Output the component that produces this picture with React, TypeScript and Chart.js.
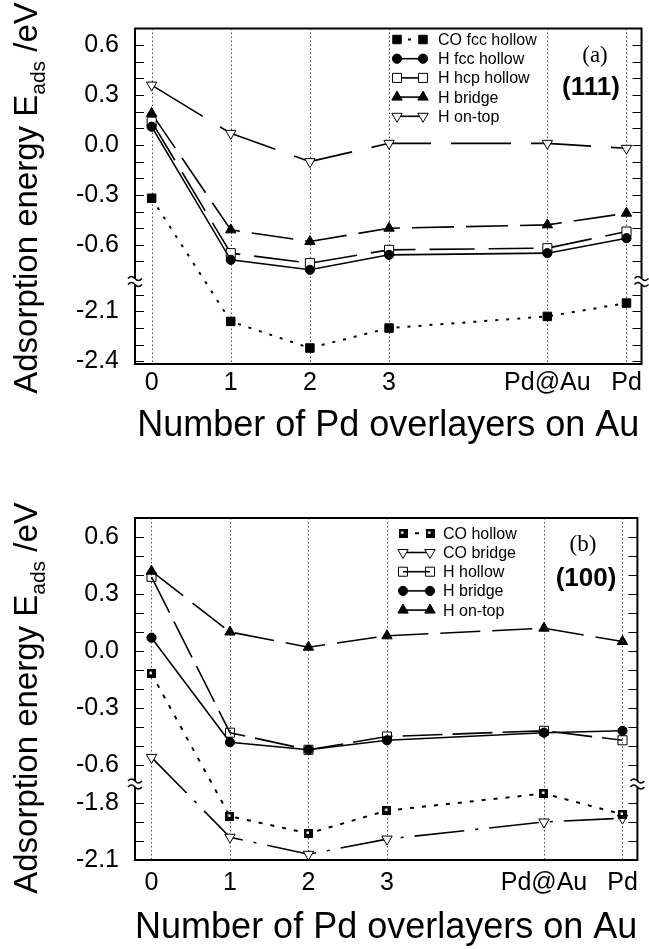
import React, { useEffect, useRef } from 'react';
import { Chart, registerables } from 'chart.js';

Chart.register(...registerables);

// ---------- shared categories ----------
const X_POS = [0, 1, 2, 3, 5, 6];
const X_LABELS = ['0', '1', '2', '3', 'Pd@Au', 'Pd'];

// ---------- panel (a) : (111) ----------
const A_SERIES_LABELS = ['CO fcc hollow', 'H fcc hollow', 'H hcp hollow', 'H bridge', 'H on-top'];
const A_CO_FCC_HOLLOW = [-0.32, -2.16, -2.32, -2.2, -2.13, -2.05];
const A_H_FCC_HOLLOW = [0.11, -0.69, -0.75, -0.66, -0.65, -0.56];
const A_H_HCP_HOLLOW = [0.14, -0.65, -0.71, -0.63, -0.62, -0.52];
const A_H_BRIDGE = [0.19, -0.51, -0.58, -0.5, -0.48, -0.41];
const A_H_ONTOP = [0.36, 0.07, -0.1, 0.01, 0.01, -0.02];
const A_Y_TICKS = [0.6, 0.5, 0.4, 0.3, 0.2, 0.1, 0.0, -0.1, -0.2, -0.3, -0.4, -0.5, -0.6, -0.7, -2.0, -2.1, -2.2, -2.3, -2.4];
const A_Y_TICK_LABELS = ['0.6', '0.3', '0.0', '-0.3', '-0.6', '-2.1', '-2.4'];

// ---------- panel (b) : (100) ----------
const B_SERIES_LABELS = ['CO hollow', 'CO bridge', 'H hollow', 'H bridge', 'H on-top'];
const B_CO_HOLLOW = [-0.12, -1.87, -1.96, -1.84, -1.75, -1.86];
const B_CO_BRIDGE = [-0.56, -1.98, -2.07, -1.99, -1.9, -1.88];
const B_H_HOLLOW = [0.39, -0.43, -0.52, -0.45, -0.42, -0.47];
const B_H_BRIDGE = [0.07, -0.48, -0.52, -0.47, -0.43, -0.42];
const B_H_ONTOP = [0.42, 0.1, 0.02, 0.08, 0.12, 0.05];
const B_Y_TICKS = [0.6, 0.5, 0.4, 0.3, 0.2, 0.1, 0.0, -0.1, -0.2, -0.3, -0.4, -0.5, -0.6, -1.8, -1.9, -2.0, -2.1];
const B_Y_TICK_LABELS = ['0.6', '0.3', '0.0', '-0.3', '-0.6', '-1.8', '-2.1'];

const X_TITLE = 'Number of Pd overlayers on Au';
const FONT = '"Liberation Sans", Arial, Helvetica, sans-serif';
const SERIF = '"Liberation Serif", "Times New Roman", serif';

function makeHollowSquareImg() {
  const c = document.createElement('canvas');
  c.width = 9;
  c.height = 9;
  const g = c.getContext('2d')!;
  g.fillStyle = '#000';
  g.fillRect(0, 0, 9, 9);
  g.fillStyle = '#fff';
  g.fillRect(2.5, 2.5, 2.5, 2.5);
  return c;
}

function drawMarker(ctx: CanvasRenderingContext2D, ds: any, x: number, y: number) {
  const style = ds.pointStyle;
  const r = ds.pointRadius;
  const rot = ((ds.pointRotation || 0) * Math.PI) / 180;
  ctx.save();
  ctx.setLineDash([]);
  ctx.fillStyle = ds.pointBackgroundColor;
  ctx.strokeStyle = ds.pointBorderColor;
  ctx.lineWidth = ds.pointBorderWidth;
  if (style instanceof HTMLCanvasElement) {
    ctx.drawImage(style, x - style.width / 2, y - style.height / 2);
    ctx.restore();
    return;
  }
  ctx.beginPath();
  if (style === 'circle') {
    ctx.arc(x, y, r, 0, Math.PI * 2);
  } else if (style === 'rect') {
    const s = Math.SQRT1_2 * r;
    ctx.rect(x - s, y - s, 2 * s, 2 * s);
  } else if (style === 'triangle') {
    let a = rot;
    ctx.moveTo(x + Math.sin(a) * r, y - Math.cos(a) * r);
    a += (2 * Math.PI) / 3;
    ctx.lineTo(x + Math.sin(a) * r, y - Math.cos(a) * r);
    a += (2 * Math.PI) / 3;
    ctx.lineTo(x + Math.sin(a) * r, y - Math.cos(a) * r);
    ctx.closePath();
  }
  ctx.fill();
  ctx.stroke();
  ctx.restore();
}

function makeDataset(label: string, vals: number[], toAxis: (v: number) => number, st: any) {
  return {
    label,
    data: X_POS.map((x, i) => ({ x, y: toAxis(vals[i]) })),
    borderColor: '#000',
    borderWidth: st.width ?? 1.6,
    borderDash: st.dash ?? [],
    pointStyle: st.style,
    pointRadius: st.r,
    pointRotation: st.rot ?? 0,
    pointBackgroundColor: st.fill,
    pointBorderColor: '#000',
    pointBorderWidth: st.bw ?? 1,
    fill: false,
    tension: 0,
    showLine: true,
  };
}

function buildChart(canvas: HTMLCanvasElement, cfg: any) {
  const toAxis = (v: number) => (v < cfg.cutoff ? v + cfg.shift : v);
  const tickVals: number[] = cfg.yTicks;
  const datasets = cfg.series.map((s: any) => makeDataset(s.label, s.vals, toAxis, s.st));

  const deco = {
    id: 'panelDeco',
    beforeDatasetsDraw(chart: any) {
      const { ctx, chartArea, scales } = chart;
      const { top, bottom } = chartArea;
      ctx.save();
      ctx.strokeStyle = '#444';
      ctx.lineWidth = 1;
      ctx.setLineDash([1.5, 2.5]);
      X_POS.forEach((v) => {
        const px = Math.round(scales.x.getPixelForValue(v)) + 0.5;
        ctx.beginPath();
        ctx.moveTo(px, top);
        ctx.lineTo(px, bottom);
        ctx.stroke();
      });
      ctx.restore();
    },
    afterDatasetsDraw(chart: any) {
      const { ctx, chartArea, scales } = chart;
      const { left, right, top, bottom } = chartArea;
      const y = scales.y;
      ctx.save();
      ctx.setLineDash([]);
      // frame
      ctx.strokeStyle = '#000';
      ctx.lineWidth = 2;
      ctx.strokeRect(left, top, right - left, bottom - top);
      // inner ticks
      ctx.lineWidth = 1.2;
      y.ticks.forEach((t: any) => {
        const py = Math.round(y.getPixelForValue(t.value)) + 0.5;
        ctx.beginPath();
        ctx.moveTo(left, py);
        ctx.lineTo(left + 9, py);
        ctx.moveTo(right, py);
        ctx.lineTo(right - 9, py);
        ctx.stroke();
      });
      // axis break marks
      const yb = y.getPixelForValue(cfg.breakAt);
      [left, right].forEach((ax) => {
        ctx.fillStyle = '#fff';
        ctx.fillRect(ax - 3, yb - 3, 6, 6);
        ctx.strokeStyle = '#000';
        ctx.lineWidth = 1.5;
        [yb - 3, yb + 3].forEach((yy) => {
          ctx.beginPath();
          ctx.moveTo(ax - 7, yy);
          ctx.quadraticCurveTo(ax - 3.5, yy - 4, ax, yy);
          ctx.quadraticCurveTo(ax + 3.5, yy + 4, ax + 7, yy);
          ctx.stroke();
        });
      });
      // legend
      chart.data.datasets.forEach((ds: any, i: number) => {
        const ly = cfg.legY + i * cfg.legDy;
        ctx.save();
        ctx.strokeStyle = '#000';
        ctx.lineWidth = ds.borderWidth;
        ctx.setLineDash(ds.borderDash || []);
        ctx.beginPath();
        ctx.moveTo(cfg.legX0, ly);
        ctx.lineTo(cfg.legX1, ly);
        ctx.stroke();
        ctx.restore();
        drawMarker(ctx, ds, cfg.legX0, ly);
        drawMarker(ctx, ds, cfg.legX1, ly);
        ctx.fillStyle = '#000';
        ctx.font = `16px ${FONT}`;
        ctx.textAlign = 'left';
        ctx.textBaseline = 'middle';
        ctx.fillText(ds.label, cfg.legTextX, ly + 1);
      });
      // annotations
      ctx.fillStyle = '#000';
      ctx.textAlign = 'center';
      ctx.textBaseline = 'middle';
      ctx.font = `23px ${SERIF}`;
      ctx.fillText(cfg.tag, cfg.tagX, cfg.tagY);
      ctx.font = `bold 26px ${FONT}`;
      ctx.fillText(cfg.face, cfg.faceX, cfg.faceY);
      // x title
      ctx.font = `36px ${FONT}`;
      ctx.textBaseline = 'alphabetic';
      ctx.fillText(X_TITLE, (left + right) / 2, cfg.xTitleBase);
      // y title with subscript
      ctx.translate(cfg.yTitleX, cfg.yTitleCY);
      ctx.rotate(-Math.PI / 2);
      ctx.textAlign = 'left';
      const f1 = `33px ${FONT}`;
      const f2 = `21px ${FONT}`;
      ctx.font = f1;
      const w1 = ctx.measureText('Adsorption energy E').width;
      const w3 = ctx.measureText(' /eV').width;
      ctx.font = f2;
      const w2 = ctx.measureText('ads').width;
      let sx = -(w1 + w2 + w3) / 2;
      ctx.font = f1;
      ctx.fillText('Adsorption energy E', sx, 0);
      ctx.font = f2;
      ctx.fillText('ads', sx + w1, 8);
      ctx.font = f1;
      ctx.fillText(' /eV', sx + w1 + w2, 0);
      ctx.restore();
    },
  };

  return new Chart(canvas, {
    type: 'line',
    data: { datasets },
    options: {
      animation: false,
      responsive: false,
      maintainAspectRatio: false,
      devicePixelRatio: 1,
      layout: { padding: { top: cfg.plotTop, right: 649 - cfg.plotRight, bottom: 0, left: 0 } },
      plugins: { legend: { display: false }, tooltip: { enabled: false }, title: { display: false } },
      scales: {
        x: {
          type: 'linear',
          min: -0.21,
          max: 6.19,
          grid: { display: false, drawTicks: false },
          border: { display: false },
          afterBuildTicks: (s: any) => {
            s.ticks = X_POS.map((v) => ({ value: v }));
          },
          afterFit: (s: any) => {
            s.height = cfg.height - cfg.plotBottom;
          },
          ticks: {
            autoSkip: false,
            maxRotation: 0,
            padding: cfg.xTickPad,
            color: '#000',
            font: { size: 25, family: FONT, lineHeight: 1 },
            callback: (_v: any, i: number) => X_LABELS[i],
          },
        },
        y: {
          type: 'linear',
          min: cfg.yMin,
          max: cfg.yMax,
          grid: { display: false, drawTicks: false },
          border: { display: false },
          afterBuildTicks: (s: any) => {
            s.ticks = tickVals.map((v) => ({ value: toAxis(v) }));
          },
          afterFit: (s: any) => {
            s.width = cfg.plotLeft;
          },
          ticks: {
            autoSkip: false,
            padding: 16,
            color: '#000',
            font: { size: 25, family: FONT, lineHeight: 1 },
            callback: (_v: any, i: number) => {
              const lab = tickVals[i].toFixed(1);
              return cfg.yLabels.includes(lab) ? lab : '';
            },
          },
        },
      },
    },
    plugins: [deco],
  });
}

const PANEL_A = {
  height: 470,
  plotTop: 26,
  plotBottom: 364,
  plotLeft: 135,
  plotRight: 644,
  yMin: -1.316,
  yMax: 0.7,
  cutoff: -1.0,
  shift: 1.1,
  breakAt: -0.82,
  yTicks: A_Y_TICKS,
  yLabels: A_Y_TICK_LABELS,
  xTickPad: 7,
  xTitleBase: 436,
  yTitleX: 37,
  yTitleCY: 198,
  legY: 39.5,
  legDy: 19.2,
  legX0: 397,
  legX1: 423,
  legTextX: 438,
  tag: '(a)',
  tagX: 595,
  tagY: 56,
  face: '(111)',
  faceX: 591,
  faceY: 88,
};

const PANEL_B = {
  height: 479,
  plotTop: 48,
  plotBottom: 390,
  plotLeft: 135,
  plotRight: 644,
  yMin: -1.1,
  yMax: 0.7,
  cutoff: -1.0,
  shift: 1.0,
  breakAt: -0.7,
  yTicks: B_Y_TICKS,
  yLabels: B_Y_TICK_LABELS,
  xTickPad: 11,
  xTitleBase: 468,
  yTitleX: 37,
  yTitleCY: 228,
  legY: 63.3,
  legDy: 19.2,
  legX0: 403,
  legX1: 430,
  legTextX: 443,
  tag: '(b)',
  tagX: 583,
  tagY: 75,
  face: '(100)',
  faceX: 586,
  faceY: 109,
};

export default function App() {
  const topRef = useRef<HTMLCanvasElement>(null);
  const botRef = useRef<HTMLCanvasElement>(null);

  useEffect(() => {
    Chart.defaults.font.family = FONT;
    Chart.defaults.color = '#000';
    const hollowSq = makeHollowSquareImg();

    const aSeries = [
      { label: A_SERIES_LABELS[0], vals: A_CO_FCC_HOLLOW, st: { style: 'rect', r: 6, fill: '#000', dash: [3, 8], width: 2 } },
      { label: A_SERIES_LABELS[1], vals: A_H_FCC_HOLLOW, st: { style: 'circle', r: 4.6, fill: '#000', width: 1.6 } },
      { label: A_SERIES_LABELS[2], vals: A_H_HCP_HOLLOW, st: { style: 'rect', r: 6.4, fill: '#fff', dash: [45, 14], width: 1.6 } },
      { label: A_SERIES_LABELS[3], vals: A_H_BRIDGE, st: { style: 'triangle', r: 6, fill: '#000', dash: [42, 12], width: 1.6 } },
      { label: A_SERIES_LABELS[4], vals: A_H_ONTOP, st: { style: 'triangle', r: 6, rot: 180, fill: '#fff', dash: [60, 20], width: 1.6 } },
    ];
    const bSeries = [
      { label: B_SERIES_LABELS[0], vals: B_CO_HOLLOW, st: { style: hollowSq, r: 5, fill: '#000', dash: [4, 8], width: 2 } },
      { label: B_SERIES_LABELS[1], vals: B_CO_BRIDGE, st: { style: 'triangle', r: 6, rot: 180, fill: '#fff', dash: [50, 11, 3, 11], width: 1.6 } },
      { label: B_SERIES_LABELS[2], vals: B_H_HOLLOW, st: { style: 'rect', r: 6.4, fill: 'rgba(255,255,255,0)', dash: [40, 10], width: 1.6 } },
      { label: B_SERIES_LABELS[3], vals: B_H_BRIDGE, st: { style: 'circle', r: 4.6, fill: '#000', width: 1.6 } },
      { label: B_SERIES_LABELS[4], vals: B_H_ONTOP, st: { style: 'triangle', r: 6, fill: '#000', dash: [40, 12], width: 1.6 } },
    ];

    const c1 = buildChart(topRef.current!, { ...PANEL_A, series: aSeries });
    const c2 = buildChart(botRef.current!, { ...PANEL_B, series: bSeries });
    return () => {
      c1.destroy();
      c2.destroy();
    };
  }, []);

  return (
    <div style={{ position: 'absolute', left: 0, top: 0, width: 649, height: 949, background: '#fff' }}>
      <canvas ref={topRef} width={649} height={470} style={{ display: 'block', width: 649, height: 470 }} />
      <canvas ref={botRef} width={649} height={479} style={{ display: 'block', width: 649, height: 479 }} />
    </div>
  );
}
